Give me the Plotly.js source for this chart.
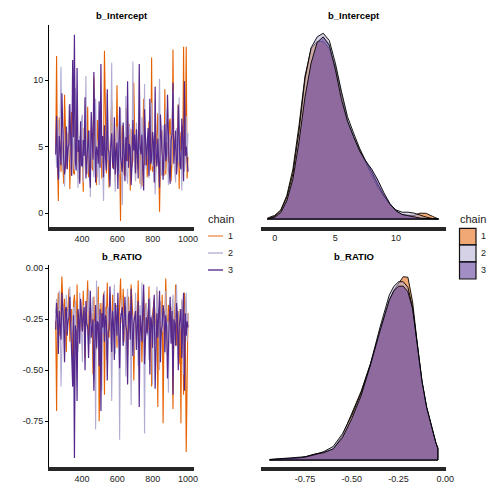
<!DOCTYPE html>
<html><head><meta charset="utf-8">
<script src="https://cdn.plot.ly/plotly-3.0.1.min.js"></script>
<style>html,body{margin:0;padding:0;background:#fff}#chart{width:504px;height:504px}</style>
</head><body><div id="chart"></div>
<script>
// ---------- data ----------
const chains = ['1', '2', '3'];
const parameters = ['b_Intercept', 'b_RATIO'];
const firstIteration = 251, lastIteration = 1000, drawsShown = 150;

// thinned post-warmup draws
const interceptChain1 = [4.6,11.8,3.9,0.9,7.2,4.4,3.1,5.4,2.8,2.2,8.9,5.1,4.0,3.3,6.0,
  6.1,1.8,4.7,7.6,4.4,3.0,2.9,9.1,5.3,3.6,5.0,2.6,2.4,6.8,4.2,
  4.1,1.6,6.4,5.7,3.8,2.9,8.0,2.7,5.0,4.9,6.4,3.4,3.2,10.2,4.5,
  4.3,2.1,7.0,5.6,3.5,4.8,7.3,2.6,3.9,4.8,12.2,5.5,3.0,5.9,2.7,
  1.9,4.5,6.2,8.4,3.4,4.0,6.0,2.3,5.2,9.6,4.2,3.1,3.7,-0.6,5.6,
  6.6,4.7,2.9,2.8,7.9,4.3,3.9,5.2,6.7,1.7,6.3,3.5,4.0,9.8,4.9,
  2.5,5.5,3.8,3.3,7.0,2.2,4.6,2.0,5.9,8.6,3.6,4.5,5.1,2.7,6.3,
  6.9,4.4,3.2,11.7,3.1,5.0,5.8,2.2,4.1,4.9,7.5,3.6,0.1,4.1,5.7,
  6.2,3.5,2.8,9.3,2.9,4.6,5.3,3.8,6.8,7.1,2.4,3.9,12.3,4.3,5.4,
  5.9,3.0,4.4,8.2,1.8,6.1,4.7,6.5,3.3,12.5,3.4,5.0,12.5,2.6,4.2];
const interceptChain2 = [5.2,3.4,4.6,7.0,2.6,5.8,11.0,4.1,3.2,6.3,2.0,4.9,5.5,3.7,6.4,
  8.1,4.6,3.1,2.8,6.7,4.3,3.2,9.4,5.6,4.9,1.9,3.8,5.8,3.5,7.1,
  7.4,2.3,5.0,4.4,10.3,3.6,3.0,5.1,6.2,1.2,6.9,4.1,4.0,2.7,5.4,
  8.6,3.9,2.7,5.6,2.1,4.5,7.7,4.3,3.4,0.9,6.0,5.2,3.3,9.0,4.0,
  4.7,2.5,6.1,11.3,3.8,4.4,5.3,1.6,3.7,6.5,4.2,5.5,2.9,7.9,3.9,
  0.6,5.0,4.2,3.6,8.8,2.9,2.2,4.5,6.6,6.2,3.1,5.0,11.4,4.8,3.5,
  2.4,6.8,4.6,3.9,5.4,3.0,1.8,7.2,5.9,4.1,9.7,3.7,3.3,5.7,4.8,
  2.6,4.9,6.0,8.3,3.5,4.3,6.1,1.4,3.9,5.2,3.7,6.7,10.1,4.4,2.9,
  2.8,6.6,4.7,3.2,7.8,5.1,4.6,2.1,3.4,5.9,3.6,6.3,9.2,4.0,3.0,
  2.3,6.4,4.9,3.8,8.7,3.3,4.5,1.7,5.7,5.6,3.1,4.1,7.3,4.2,6.0];
const interceptChain3 = [4.4,7.3,3.8,2.5,5.8,4.6,3.6,9.0,5.2,4.1,2.9,3.5,6.5,3.3,4.9,
  5.2,8.2,4.0,2.8,11.5,5.7,13.4,3.9,3.2,10.9,4.6,5.5,2.2,6.9,3.6,
  3.5,5.5,4.3,8.7,2.6,3.9,4.8,6.2,3.1,1.9,7.6,5.0,4.0,10.6,4.4,
  2.3,5.0,4.7,3.7,8.4,3.4,11.2,4.3,5.8,2.7,6.6,4.1,3.2,9.3,4.8,
  4.5,2.0,5.1,6.0,3.8,3.3,7.2,2.9,4.6,5.3,1.8,6.1,8.0,4.2,3.7,
  3.1,6.8,4.5,2.4,5.7,3.9,9.9,3.4,5.2,4.9,2.1,3.6,7.0,4.7,5.9,
  3.0,6.3,4.2,2.6,11.2,4.9,4.4,5.9,3.3,1.7,7.8,4.5,3.6,5.1,6.4,
  2.8,8.6,3.7,4.0,6.1,5.3,2.3,9.5,4.2,3.5,5.6,3.0,1.9,7.4,4.7,
  4.3,2.5,5.5,6.7,3.9,4.4,8.9,4.8,3.2,2.2,5.4,6.0,9.8,3.7,4.6,
  6.2,2.9,4.1,8.1,4.6,3.6,3.3,7.1,5.4,2.4,9.9,4.3,5.0,4.0,3.1];

const ratioChain1 = [-0.26,-0.70,-0.21,-0.12,-0.33,-0.27,-0.18,-0.04,-0.24,-0.29,-0.15,-0.32,-0.41,-0.22,-0.19,
  -0.10,-0.36,-0.25,-0.20,-0.47,-0.17,-0.13,-0.28,-0.34,-0.08,-0.38,-0.23,-0.24,-0.16,-0.30,
  -0.31,-0.11,-0.26,-0.44,-0.21,-0.18,-0.06,-0.35,-0.28,-0.19,-0.27,-0.22,-0.52,-0.14,-0.31,
  -0.23,-0.40,-0.20,-0.09,-0.75,-0.29,-0.17,-0.30,-0.24,-0.12,-0.62,-0.19,-0.25,-0.07,-0.33,
  -0.34,-0.20,-0.27,-0.45,-0.13,-0.23,-0.28,-0.25,-0.18,-0.39,-0.22,-0.30,-0.16,-0.05,-0.21,
  -0.27,-0.10,-0.22,-0.36,-0.19,-0.29,-0.43,-0.14,-0.25,-0.31,-0.08,-0.20,-0.24,-0.55,-0.28,
  -0.18,-0.29,-0.24,-0.06,-0.37,-0.21,-0.21,-0.46,-0.27,-0.12,-0.33,-0.19,-0.17,-0.26,-0.32,
  -0.09,-0.40,-0.25,-0.58,-0.23,-0.18,-0.15,-0.30,-0.27,-0.11,-0.68,-0.22,-0.20,-0.35,-0.24,
  -0.13,-0.76,-0.29,-0.25,-0.05,-0.21,-0.42,-0.18,-0.26,-0.22,-0.31,-0.19,-0.69,-0.27,-0.23,
  -0.08,-0.38,-0.25,-0.21,-0.47,-0.20,-0.76,-0.16,-0.28,-0.62,-0.12,-0.31,-0.90,-0.34,-0.22];
const ratioChain2 = [-0.22,-0.15,-0.28,-0.38,-0.11,-0.24,-0.58,-0.27,-0.20,-0.19,-0.44,-0.26,-0.13,-0.31,-0.21,
  -0.20,-0.09,-0.27,-0.35,-0.24,-0.19,-0.50,-0.16,-0.30,-0.29,-0.41,-0.23,-0.12,-0.26,-0.33,
  -0.46,-0.18,-0.25,-0.33,-0.28,-0.20,-0.21,-0.10,-0.29,-0.37,-0.25,-0.18,-0.14,-0.55,-0.26,
  -0.79,-0.06,-0.24,-0.40,-0.17,-0.30,-0.23,-0.60,-0.21,-0.32,-0.11,-0.27,-0.45,-0.20,-0.19,
  -0.26,-0.13,-0.31,-0.65,-0.30,-0.23,-0.08,-0.42,-0.20,-0.19,-0.35,-0.28,-0.84,-0.22,-0.25,
  -0.15,-0.38,-0.22,-0.27,-0.53,-0.19,-0.10,-0.31,-0.26,-0.18,-0.67,-0.23,-0.24,-0.43,-0.29,
  -0.12,-0.29,-0.24,-0.48,-0.21,-0.18,-0.36,-0.07,-0.27,-0.26,-0.81,-0.22,-0.17,-0.33,-0.30,
  -0.45,-0.14,-0.26,-0.23,-0.57,-0.21,-0.19,-0.37,-0.28,-0.09,-0.28,-0.20,-0.50,-0.16,-0.24,
  -0.31,-0.20,-0.25,-0.42,-0.11,-0.29,-0.26,-0.61,-0.22,-0.18,-0.34,-0.19,-0.13,-0.39,-0.27,
  -0.24,-0.08,-0.28,-0.44,-0.21,-0.23,-0.30,-0.15,-0.26,-0.52,-0.27,-0.20,-0.12,-0.36,-0.22];
const ratioChain3 = [-0.30,-0.17,-0.24,-0.42,-0.21,-0.28,-0.35,-0.12,-0.22,-0.27,-0.46,-0.20,-0.19,-0.33,-0.26,
  -0.24,-0.14,-0.29,-0.40,-0.58,-0.23,-0.93,-0.28,-0.31,-0.65,-0.20,-0.25,-0.37,-0.15,-0.21,
  -0.31,-0.23,-0.19,-0.50,-0.16,-0.27,-0.29,-0.44,-0.22,-0.11,-0.34,-0.30,-0.25,-0.60,-0.24,
  -0.18,-0.39,-0.26,-0.27,-0.48,-0.20,-0.70,-0.22,-0.29,-0.13,-0.36,-0.23,-0.26,-0.55,-0.31,
  -0.30,-0.09,-0.22,-0.41,-0.21,-0.27,-0.45,-0.17,-0.24,-0.33,-0.12,-0.29,-0.49,-0.25,-0.20,
  -0.19,-0.38,-0.25,-0.14,-0.28,-0.31,-0.57,-0.23,-0.21,-0.35,-0.10,-0.26,-0.43,-0.27,-0.22,
  -0.21,-0.40,-0.28,-0.16,-0.68,-0.23,-0.29,-0.36,-0.20,-0.08,-0.47,-0.27,-0.24,-0.32,-0.19,
  -0.15,-0.52,-0.24,-0.26,-0.39,-0.21,-0.13,-0.59,-0.28,-0.22,-0.34,-0.25,-0.11,-0.46,-0.30,
  -0.28,-0.18,-0.22,-0.41,-0.23,-0.29,-0.54,-0.31,-0.26,-0.14,-0.37,-0.21,-0.62,-0.25,-0.27,
  -0.38,-0.17,-0.23,-0.50,-0.29,-0.25,-0.20,-0.44,-0.28,-0.12,-0.60,-0.22,-0.33,-0.26,-0.29];

// density curves
const interceptGrid = [-0.6,0,0.5,1,1.5,2,2.5,3,3.5,4,4.5,5,5.5,6,6.5,7,7.5,8,8.5,9,9.5,10,10.5,11,11.5,12,12.5,13,13.5];
const interceptDens1 = [0.001,0.004,0.010,0.026,0.055,0.103,0.158,0.188,0.196,0.196,0.188,0.168,0.138,0.108,0.091,0.076,0.062,0.048,0.035,0.025,0.016,0.009,0.005,0.004,0.004,0.0065,0.0062,0.003,0.0005];
const interceptDens2 = [0,0.003,0.009,0.024,0.050,0.097,0.155,0.189,0.201,0.205,0.197,0.172,0.141,0.113,0.095,0.078,0.064,0.052,0.038,0.026,0.016,0.010,0.0075,0.0075,0.0065,0.004,0.002,0.0005,0];
const interceptDens3 = [0,0.002,0.007,0.020,0.044,0.085,0.135,0.172,0.195,0.201,0.192,0.165,0.132,0.108,0.091,0.075,0.064,0.055,0.043,0.029,0.017,0.009,0.005,0.0035,0.002,0.001,0.0005,0,0];

const ratioGrid = [-0.94,-0.9,-0.85,-0.8,-0.75,-0.7,-0.65,-0.6,-0.55,-0.5,-0.45,-0.4,-0.35,-0.3,-0.275,-0.25,-0.225,-0.2,-0.175,-0.15,-0.125,-0.1,-0.075,-0.05,-0.04];
const ratioDens1 = [0.008,0.015,0.022,0.032,0.055,0.105,0.14,0.19,0.44,0.82,1.23,1.72,2.30,2.85,3.03,3.15,3.27,3.26,2.82,2.08,1.40,0.93,0.60,0.30,0.21];
const ratioDens2 = [0.005,0.010,0.018,0.030,0.050,0.09,0.15,0.24,0.47,0.80,1.20,1.72,2.36,2.94,3.10,3.18,3.18,3.08,2.72,2.05,1.40,0.95,0.60,0.30,0.22];
const ratioDens3 = [0.010,0.018,0.025,0.035,0.058,0.10,0.13,0.20,0.40,0.74,1.15,1.70,2.30,2.85,3.02,3.10,3.10,3.00,2.70,2.06,1.42,0.94,0.60,0.30,0.20];

// tick labels
const iterTicks = [400, 600, 800, 1000];
const interceptTraceTicks = [0, 5, 10];
const interceptDensTicks = [0, 5, 10];
const ratioTraceTicks = [0, -0.25, -0.5, -0.75];
const ratioTickText = ['0.00', '-0.25', '-0.50', '-0.75'];
const ratioDensTicks = [-0.75, -0.5, -0.25, 0];
const ratioDensTickText = ['-0.75', '-0.50', '-0.25', '0.00'];

// ---------- style ----------
const lineColors = ['#E66101', '#B2ABD2', '#55288C'];
const lineWidths = [1.1, 1.1, 1.2];
const fillColors = ['rgba(230,97,1,0.55)', 'rgba(178,171,210,0.55)', 'rgba(94,60,153,0.58)'];
const legendLineColors = ['rgba(230,97,1,0.6)', 'rgba(178,171,210,0.8)', 'rgba(85,40,140,0.85)'];
const FONT = 'Liberation Sans, Arial, Helvetica, sans-serif';
const W = 504, H = 504;
const PX = p => p / W, PY = p => 1 - p / H;

const iterations = Array.from({length: drawsShown}, (_, k) =>
  Math.round(firstIteration + k * (lastIteration - firstIteration) / (drawsShown - 1)));

const interceptChains = [interceptChain1, interceptChain2, interceptChain3];
const ratioChains = [ratioChain1, ratioChain2, ratioChain3];
const interceptDens = [interceptDens1, interceptDens2, interceptDens3];
const ratioDens = [ratioDens1, ratioDens2, ratioDens3];

const data = [];
chains.forEach((c, i) => {
  data.push({type: 'scatter', mode: 'lines', x: iterations, y: interceptChains[i], xaxis: 'x', yaxis: 'y',
    line: {color: lineColors[i], width: lineWidths[i]}, name: c, showlegend: false, hoverinfo: 'skip'});
});
chains.forEach((c, i) => {
  data.push({type: 'scatter', mode: 'lines', x: iterations, y: ratioChains[i], xaxis: 'x3', yaxis: 'y3',
    line: {color: lineColors[i], width: lineWidths[i]}, name: c, showlegend: false, hoverinfo: 'skip'});
});
function densTrace(grid, dens, ax, ay, i) {
  const xs = grid.concat([grid[grid.length - 1], grid[0]]);
  const ys = dens.concat([0, 0]);
  return {type: 'scatter', mode: 'lines', x: xs, y: ys, xaxis: ax, yaxis: ay, fill: 'toself',
    fillcolor: fillColors[i], line: {color: '#000', width: 0.9}, name: chains[i], showlegend: false, hoverinfo: 'skip'};
}
chains.forEach((c, i) => data.push(densTrace(interceptGrid, interceptDens[i], 'x2', 'y2', i)));
chains.forEach((c, i) => data.push(densTrace(ratioGrid, ratioDens[i], 'x4', 'y4', i)));

const tickFont = {family: FONT, size: 9, color: '#222'};
function xAxis(dom, range, vals, text, anchor) {
  return {domain: dom, range: range, anchor: anchor, showline: true, linewidth: 4, linecolor: '#262626',
    ticks: 'outside', ticklen: 0, tickvals: vals, ticktext: text, tickfont: tickFont,
    showgrid: false, zeroline: false, fixedrange: true};
}
function yAxis(dom, range, vals, text, anchor, show) {
  return {domain: dom, range: range, anchor: anchor, showline: show, linewidth: 1, linecolor: '#000',
    ticks: show ? 'outside' : '', ticklen: 3, tickwidth: 1, tickcolor: '#000',
    tickvals: show ? vals : [], ticktext: text, showticklabels: show, tickfont: tickFont,
    showgrid: false, zeroline: false, fixedrange: true};
}

const leftDom = [PX(49), PX(194)], rightDom = [PX(261), PX(446)];
const layout = {
  width: W, height: H, margin: {l: 0, r: 0, t: 0, b: 0}, paper_bgcolor: '#fff', plot_bgcolor: '#fff',
  showlegend: false, font: {family: FONT},
  xaxis: xAxis(leftDom, [213, 1034], iterTicks, iterTicks.map(String), 'y'),
  yaxis: yAxis([PY(227), PY(25)], [-1.05, 14.14], interceptTraceTicks, interceptTraceTicks.map(String), 'x', true),
  xaxis2: xAxis(rightDom, [-1.13, 14.12], interceptDensTicks, interceptDensTicks.map(String), 'y2'),
  yaxis2: yAxis([PY(226.5), PY(24)], [-0.00828, 0.2152], [], [], 'x2', false),
  xaxis3: xAxis(leftDom, [213, 1034], iterTicks, iterTicks.map(String), 'y3'),
  yaxis3: yAxis([PY(467), PY(265)], [-0.974, 0.016], ratioTraceTicks, ratioTickText, 'x3', true),
  xaxis4: xAxis(rightDom, [-0.986, 0.0037], ratioDensTicks, ratioDensTickText, 'y4'),
  yaxis4: yAxis([PY(467), PY(266)], [-0.1249, 3.4606], [], [], 'x4', false),
  annotations: [], shapes: []
};

// panel titles
const titlePos = [[121.5, 15.7], [353.5, 15.7], [121.5, 256.7], [353.5, 256.7]];
const titleText = [parameters[0], parameters[0], parameters[1], parameters[1]];
titlePos.forEach((p, i) => layout.annotations.push({xref: 'paper', yref: 'paper', x: PX(p[0]), y: PY(p[1]),
  xanchor: 'center', yanchor: 'middle', showarrow: false, text: '<b>' + titleText[i] + '</b>',
  font: {family: FONT, size: 9.5, color: '#000'}}));

// legends
const legendTitleFont = {family: FONT, size: 11, color: '#1a1a1a'};
const legendItemFont = {family: FONT, size: 9, color: '#1a1a1a'};
const itemY = [236, 253, 270];
// trace legend
layout.annotations.push({xref: 'paper', yref: 'paper', x: PX(206), y: PY(219), xanchor: 'left', yanchor: 'middle',
  showarrow: false, text: 'chain', font: legendTitleFont});
chains.forEach((c, i) => {
  layout.shapes.push({type: 'line', xref: 'paper', yref: 'paper', x0: PX(208), x1: PX(223), y0: PY(itemY[i]), y1: PY(itemY[i]),
    line: {color: legendLineColors[i], width: 1.6}});
  layout.annotations.push({xref: 'paper', yref: 'paper', x: PX(226), y: PY(itemY[i]), xanchor: 'left', yanchor: 'middle',
    showarrow: false, text: c, font: legendItemFont});
});
// density legend
layout.annotations.push({xref: 'paper', yref: 'paper', x: PX(458), y: PY(219), xanchor: 'left', yanchor: 'middle',
  showarrow: false, text: 'chain', font: legendTitleFont});
const boxEdges = [228.3, 244.8, 261.8, 279];
chains.forEach((c, i) => {
  layout.shapes.push({type: 'rect', xref: 'paper', yref: 'paper', x0: PX(459.5), x1: PX(476), y0: PY(boxEdges[i]), y1: PY(boxEdges[i + 1]),
    fillcolor: fillColors[i], line: {color: '#111', width: 1.2}});
  layout.annotations.push({xref: 'paper', yref: 'paper', x: PX(478.5), y: PY(itemY[i]), xanchor: 'left', yanchor: 'middle',
    showarrow: false, text: c, font: legendItemFont});
});

Plotly.newPlot('chart', data, layout, {staticPlot: true, displayModeBar: false});
</script>
</body></html>
